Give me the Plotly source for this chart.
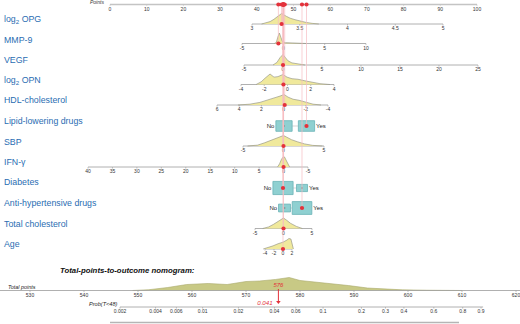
import math
import plotly.graph_objects as go

# ===================== DATA =====================
POINT_TICKS = [0, 10, 20, 30, 40, 50, 60, 70, 80, 90, 100]

# continuous predictors: tick values, model anchors (value -> points), density, observed value
OPG_TICKS = [3, 3.5, 4, 4.5, 5]
OPG_ANCHOR_V = [3, 5]
OPG_ANCHOR_P = [38.69, 90.74]
OPG_DENS_V = [3.10, 3.15, 3.19, 3.23, 3.27, 3.31, 3.36, 3.40, 3.45, 3.50, 3.57, 3.63, 3.70]
OPG_DENS_H = [0, 0.09, 0.23, 0.45, 0.73, 1.0, 0.73, 0.55, 0.41, 0.27, 0.14, 0.06, 0]
OPG_OBS = 3.31

MMP_TICKS = [-5, 0, 5, 10]
MMP_ANCHOR_V = [-5, 10]
MMP_ANCHOR_P = [35.97, 69.75]
MMP_DENS_V = [-1.09, -0.85, -0.67, -0.48, -0.30, -0.12, 0.24, 0.85, 1.69, 2.78]
MMP_DENS_H = [0, 0.1, 0.6, 1.0, 0.6, 0.2, 0.08, 0.05, 0.03, 0]
MMP_OBS = -0.6

VEGF_TICKS = [-5, 0, 5, 10, 15, 20, 25]
VEGF_ANCHOR_V = [-5, 25]
VEGF_ANCHOR_P = [36.51, 100.27]
VEGF_DENS_V = [-1.28, -0.77, -0.38, -0.13, 0, 0.26, 0.64, 1.15, 1.92, 2.82]
VEGF_DENS_H = [0, 0.25, 0.7, 0.95, 1.0, 0.75, 0.4, 0.2, 0.08, 0]
VEGF_OBS = 0

OPN_TICKS = [-4, -2, 0, 2, 4]
OPN_ANCHOR_V = [-4, 4]
OPN_ANCHOR_P = [35.69, 61.04]
OPN_DENS_V = [-2.70, -2.27, -1.93, -1.50, -1.16, -0.82, -0.39, -0.04, 0.39, 0.90, 1.50, 2.10, 2.79, 3.65]
OPN_DENS_H = [0, 0.25, 0.6, 1.0, 0.7, 0.75, 0.95, 0.7, 0.55, 0.5, 0.35, 0.2, 0.08, 0]
OPN_OBS = -0.35

HDL_TICKS = [6, 4, 2, 0, -2, -4]
HDL_ANCHOR_V = [6, -4]
HDL_ANCHOR_P = [29.16, 59.40]
HDL_DENS_V = [4.11, 3.03, 2.13, 1.41, 0.77, 0.32, -0.04, -0.40, -0.85, -1.39, -2.02, -2.65, -3.37]
HDL_DENS_H = [0, 0.08, 0.25, 0.45, 0.7, 0.85, 1.0, 0.75, 0.55, 0.45, 0.25, 0.08, 0]
HDL_OBS = -0.1

SBP_TICKS = [-5, 0, 5]
SBP_ANCHOR_V = [-5, 5]
SBP_ANCHOR_P = [36.24, 58.31]
SBP_DENS_V = [-4.44, -3.21, -2.35, -1.48, -0.74, -0.25, 0, 0.37, 0.99, 1.73, 2.59, 3.58, 4.81]
SBP_DENS_H = [0, 0.08, 0.3, 0.55, 0.8, 0.95, 1.0, 0.85, 0.6, 0.4, 0.2, 0.06, 0]
SBP_OBS = 0

IFN_TICKS = [40, 35, 30, 25, 20, 15, 10, 5, 0, -5]
IFN_ANCHOR_V = [40, -5]
IFN_ANCHOR_P = [-5.99, 53.95]
IFN_DENS_V = [1.23, 0.82, 0.41, 0.20, 0, -0.20, -0.41, -0.82, -1.23]
IFN_DENS_H = [0, 0.3, 0.75, 0.95, 1.0, 0.95, 0.75, 0.3, 0]
IFN_OBS = 0

TC_TICKS = [-5, 0, 5]
TC_ANCHOR_V = [-5, 5]
TC_ANCHOR_P = [39.51, 55.04]
TC_DENS_V = [-3.65, -2.61, -1.74, -0.87, -0.35, 0, 0.52, 1.22, 2.26, 3.30]
TC_DENS_H = [0, 0.15, 0.4, 0.7, 0.9, 1.0, 0.8, 0.5, 0.2, 0]
TC_OBS = 0

AGE_TICKS = [-4, -2, 0, 2]
AGE_ANCHOR_V = [-4, 2]
AGE_ANCHOR_P = [42.23, 49.59]
AGE_DENS_V = [-4.40, -3.30, -2.20, -1.10, 0, 0.88, 1.32, 1.76, 2.09, 2.31]
AGE_DENS_H = [0, 0.12, 0.3, 0.5, 0.65, 0.85, 1.0, 0.95, 0.5, 0]
AGE_OBS = 0

# categorical predictors
CAT_LEVELS = ["No", "Yes"]
LIPID_POINTS = [47.41, 53.54]
LIPID_FREQ = [0.5, 0.5]
LIPID_OBS = "Yes"
DIAB_POINTS = [47.14, 52.32]
DIAB_FREQ = [0.77, 0.23]
DIAB_OBS = "No"
ANTI_POINTS = [47.55, 52.32]
ANTI_FREQ = [0.27, 0.73]
ANTI_OBS = "Yes"

# total points / probability
TOTAL_TICKS = [530, 540, 550, 560, 570, 580, 590, 600, 610, 620]
TOTAL_DENS_V = [549, 552, 555.5, 559, 563, 566.5, 570, 572.5, 575.5, 578, 580, 583, 585, 589,
                592.5, 596, 599, 603.5, 607, 610]
TOTAL_DENS_H = [0, 0.06, 0.23, 0.46, 0.54, 0.46, 0.69, 0.73, 0.85, 1.0, 0.77, 0.65, 0.54, 0.38,
                0.19, 0.09, 0.05, 0.02, 0.015, 0]
PROB_TICKS = [0.002, 0.004, 0.006, 0.01, 0.02, 0.04, 0.06, 0.1, 0.2, 0.3, 0.4, 0.6, 0.8, 0.9]
PROB_TICK_LABELS = ["0.002", "0.004", "0.006", "0.01", "0.02", "0.04", "0.06", "0.1", "0.2",
                    "0.3", "0.4", "0.6", "0.8", "0.9"]
TOTAL_OBS = 576
PROB_OBS = 0.041

# ===================== LAYOUT / STYLE =====================
W, H = 520, 324
PX_PER_POINT = 3.67
POINTS_ORIGIN_PX = 110
TP_PX0, TP_PX_PER = 30, 5.4          # total points 530 at px 30
PR_PX0, PR_PX_PER = 120, 51.23       # prob 0.002 at px 120 (cloglog scale)

LABEL_BLUE = "#2a6db2"
RED = "#e3323b"
PINK = "#f7bcc1"
AXIS_GREY = "#9c9c9c"
TICK_FONT = dict(family="Liberation Sans", size=5, color="#333")
YELLOW = "#f0e99c"
DENS_LINE = "#9a9a8a"
BOX_FILL = "#8fd0d1"
BOX_LINE = "#6ab3b6"
DENS_PX = 10.5
POINTS_AXIS_Y = 4.5


def cloglog(p):
    return math.log(-math.log(1 - p))


def lin(v, av, ap):
    return ap[0] + (v - av[0]) * (ap[1] - ap[0]) / (av[1] - av[0])


rows_cont = [
    dict(label="log<sub>2</sub> OPG", ly=19, ay=24, ticks=OPG_TICKS, av=OPG_ANCHOR_V, ap=OPG_ANCHOR_P,
         dv=OPG_DENS_V, dh=OPG_DENS_H, obs=OPG_OBS),
    dict(label="MMP-9", ly=40, ay=43.5, ticks=MMP_TICKS, av=MMP_ANCHOR_V, ap=MMP_ANCHOR_P,
         dv=MMP_DENS_V, dh=MMP_DENS_H, obs=MMP_OBS),
    dict(label="VEGF", ly=60, ay=65, ticks=VEGF_TICKS, av=VEGF_ANCHOR_V, ap=VEGF_ANCHOR_P,
         dv=VEGF_DENS_V, dh=VEGF_DENS_H, obs=VEGF_OBS),
    dict(label="log<sub>2</sub> OPN", ly=80, ay=84.5, ticks=OPN_TICKS, av=OPN_ANCHOR_V, ap=OPN_ANCHOR_P,
         dv=OPN_DENS_V, dh=OPN_DENS_H, obs=OPN_OBS),
    dict(label="HDL-cholesterol", ly=100, ay=105, ticks=HDL_TICKS, av=HDL_ANCHOR_V, ap=HDL_ANCHOR_P,
         dv=HDL_DENS_V, dh=HDL_DENS_H, obs=HDL_OBS),
    dict(label="SBP", ly=142, ay=146, ticks=SBP_TICKS, av=SBP_ANCHOR_V, ap=SBP_ANCHOR_P,
         dv=SBP_DENS_V, dh=SBP_DENS_H, obs=SBP_OBS),
    dict(label="IFN-γ", ly=162, ay=167, ticks=IFN_TICKS, av=IFN_ANCHOR_V, ap=IFN_ANCHOR_P,
         dv=IFN_DENS_V, dh=IFN_DENS_H, obs=IFN_OBS),
    dict(label="Total cholesterol", ly=224, ay=228.5, ticks=TC_TICKS, av=TC_ANCHOR_V, ap=TC_ANCHOR_P,
         dv=TC_DENS_V, dh=TC_DENS_H, obs=TC_OBS),
    dict(label="Age", ly=244, ay=249, ticks=AGE_TICKS, av=AGE_ANCHOR_V, ap=AGE_ANCHOR_P,
         dv=AGE_DENS_V, dh=AGE_DENS_H, obs=AGE_OBS),
]
rows_cat = [
    dict(label="Lipid-lowering drugs", ly=121, ay=126, pts=LIPID_POINTS, freq=LIPID_FREQ, obs=LIPID_OBS),
    dict(label="Diabetes", ly=182, ay=188, pts=DIAB_POINTS, freq=DIAB_FREQ, obs=DIAB_OBS),
    dict(label="Anti-hypertensive drugs", ly=203, ay=208, pts=ANTI_POINTS, freq=ANTI_FREQ, obs=ANTI_OBS),
]

fig = go.Figure()
annotations = []


def line(xs, ys, color=AXIS_GREY, width=0.8, xaxis="x"):
    fig.add_trace(go.Scatter(x=xs, y=ys, mode="lines", line=dict(color=color, width=width),
                             xaxis=xaxis, yaxis="y", hoverinfo="skip", showlegend=False))


def texts(xs, ys, labels, font=TICK_FONT, xaxis="x", pos="middle center"):
    fig.add_trace(go.Scatter(x=xs, y=ys, mode="text", text=labels, textposition=pos,
                             textfont=font, xaxis=xaxis, yaxis="y", hoverinfo="skip",
                             showlegend=False, cliponaxis=False))


def dots(xs, ys, color=RED, size=4.2, xaxis="x", symbol="circle"):
    fig.add_trace(go.Scatter(x=xs, y=ys, mode="markers",
                             marker=dict(color=color, size=size, symbol=symbol, line=dict(width=0)),
                             xaxis=xaxis, yaxis="y", hoverinfo="skip", showlegend=False,
                             cliponaxis=False))


def axis_with_ticks(tick_pos, labels, y, xaxis="x", color=AXIS_GREY, width=0.8, extent=None):
    lo, hi = (min(tick_pos), max(tick_pos)) if extent is None else extent
    line([lo, hi], [y, y], color=color, width=width, xaxis=xaxis)
    tx, ty = [], []
    for p in tick_pos:
        tx += [p, p, None]
        ty += [y, y + 1.6, None]
    line(tx, ty, color=color, width=0.6, xaxis=xaxis)
    texts(tick_pos, [y + 5] * len(tick_pos), labels, xaxis=xaxis)


# ---- Points axis ----
axis_with_ticks(POINT_TICKS, [str(t) for t in POINT_TICKS], POINTS_AXIS_Y, color="#c4c4c4", width=1.4)
annotations.append(dict(x=106 / W, xref="paper", y=1.8, yref="y", text="<i>Points</i>",
                        showarrow=False, xanchor="right", yanchor="middle",
                        font=dict(family="Liberation Sans", size=5, color="#333")))

# ---- continuous rows ----
obs_points = []
for r in rows_cont:
    tp = [lin(t, r["av"], r["ap"]) for t in r["ticks"]]
    axis_with_ticks(tp, [f"{t:g}" for t in r["ticks"]], r["ay"])
    dx = [lin(v, r["av"], r["ap"]) for v in r["dv"]]
    dy = [r["ay"] - h * DENS_PX for h in r["dh"]]
    fig.add_trace(go.Scatter(x=dx, y=dy, mode="lines", fill="toself", fillcolor=YELLOW,
                             line=dict(color=DENS_LINE, width=0.7), hoverinfo="skip",
                             showlegend=False))
    obs_points.append((lin(r["obs"], r["av"], r["ap"]), r["ay"]))

# ---- categorical rows ----
for r in rows_cat:
    halfw = [23 * math.sqrt(f) / 2 / PX_PER_POINT for f in r["freq"]]
    halfh = [15 * math.sqrt(f) / 2 for f in r["freq"]]
    line([r["pts"][0] + halfw[0], r["pts"][1] - halfw[1]], [r["ay"], r["ay"]], color="#b9b9b9", width=0.6)
    for i, lev in enumerate(CAT_LEVELS):
        c, hw, hh = r["pts"][i], halfw[i], halfh[i]
        fig.add_trace(go.Scatter(x=[c - hw, c + hw, c + hw, c - hw, c - hw],
                                 y=[r["ay"] - hh, r["ay"] - hh, r["ay"] + hh, r["ay"] + hh, r["ay"] - hh],
                                 mode="lines", fill="toself", fillcolor=BOX_FILL,
                                 line=dict(color=BOX_LINE, width=0.8), hoverinfo="skip",
                                 showlegend=False))
        if lev != r["obs"]:
            dots([c], [r["ay"]], color="#8a9a9a", size=2)
    texts([r["pts"][0] - halfw[0] - 0.4], [r["ay"]], ["No"],
          font=dict(family="Liberation Sans", size=6, color="#222"), pos="middle left")
    texts([r["pts"][1] + halfw[1] + 0.4], [r["ay"]], ["Yes"],
          font=dict(family="Liberation Sans", size=6, color="#222"), pos="middle right")
    k = CAT_LEVELS.index(r["obs"])
    obs_points.append((r["pts"][k], r["ay"]))

# ---- pink guide lines + red points ----
for p, y in obs_points:
    line([p, p], [POINTS_AXIS_Y, y], color=PINK, width=0.7)
dots([p for p, _ in obs_points], [y for _, y in obs_points])
dots([p for p, _ in obs_points], [POINTS_AXIS_Y] * len(obs_points))

# ---- row labels ----
for r in rows_cont + rows_cat:
    annotations.append(dict(x=2 / W, xref="paper", y=r["ly"], yref="y", text=r["label"],
                            showarrow=False, xanchor="left", yanchor="middle",
                            font=dict(family="Liberation Sans", size=8.8, color=LABEL_BLUE)))

# ---- total points nomogram ----
TP_Y = 290.5
PR_Y = 307
fig.add_trace(go.Scatter(x=TOTAL_DENS_V, y=[TP_Y - h * 13 for h in TOTAL_DENS_H], mode="lines",
                         fill="toself", fillcolor="#c8c985", line=dict(color="#a9aa6c", width=0.6),
                         xaxis="x2", yaxis="y", hoverinfo="skip", showlegend=False))
tp_lo = TOTAL_TICKS[0] - TP_PX0 / TP_PX_PER
tp_hi = TOTAL_TICKS[0] + (W - TP_PX0) / TP_PX_PER
axis_with_ticks(TOTAL_TICKS, [str(t) for t in TOTAL_TICKS], TP_Y, xaxis="x2", extent=(tp_lo, tp_hi))

pr_pos = [cloglog(p) for p in PROB_TICKS]
axis_with_ticks(pr_pos, PROB_TICK_LABELS, PR_Y, xaxis="x3",
                extent=(pr_pos[0], pr_pos[-1] + 0.04))

# observed total -> probability
line([TOTAL_OBS, TOTAL_OBS], [TP_Y - 1.5, PR_Y - 5], color=RED, width=1, xaxis="x2")
dots([TOTAL_OBS], [PR_Y - 5], size=4, xaxis="x2", symbol="triangle-down")
texts([TOTAL_OBS], [TP_Y - 5], [f"<i>{TOTAL_OBS}</i>"],
      font=dict(family="Liberation Sans", size=6, color=RED), xaxis="x2")
texts([cloglog(PROB_OBS) - 0.06], [PR_Y - 4], [f"<i>{PROB_OBS:g}</i>"],
      font=dict(family="Liberation Sans", size=6.2, color=RED), xaxis="x3", pos="middle left")

annotations.append(dict(x=6 / W, xref="paper", y=287, yref="y", text="<i>Total points</i>",
                        showarrow=False, xanchor="left", yanchor="middle",
                        font=dict(family="Liberation Sans", size=5.4, color="#222")))
annotations.append(dict(x=120 / W, xref="paper", y=303.5, yref="y", text="<i>Prob(T&lt;48)</i>",
                        showarrow=False, xanchor="right", yanchor="middle",
                        font=dict(family="Liberation Sans", size=5.6, color="#222")))
annotations.append(dict(x=127 / W, xref="paper", y=270.5, yref="y",
                        text="<b><i>Total-points-to-outcome nomogram:</i></b>",
                        showarrow=False, xanchor="center", yanchor="middle",
                        font=dict(family="Liberation Sans", size=7.8, color="#111")))

# bottom grey rule
fig.add_shape(type="line", xref="paper", yref="y", x0=110 / W, x1=459 / W, y0=322.5, y1=322.5,
              line=dict(color="#b5b5b5", width=1.5))

pr_lo = cloglog(PROB_TICKS[0]) - PR_PX0 / PR_PX_PER
pr_hi = cloglog(PROB_TICKS[0]) + (W - PR_PX0) / PR_PX_PER

fig.update_layout(
    width=W, height=H, margin=dict(l=0, r=0, t=0, b=0),
    paper_bgcolor="white", plot_bgcolor="white", showlegend=False,
    xaxis=dict(range=[-POINTS_ORIGIN_PX / PX_PER_POINT, (W - POINTS_ORIGIN_PX) / PX_PER_POINT],
               visible=False, fixedrange=True),
    xaxis2=dict(range=[tp_lo, tp_hi], overlaying="x", anchor="y", visible=False, fixedrange=True),
    xaxis3=dict(range=[pr_lo, pr_hi], overlaying="x", anchor="y", visible=False, fixedrange=True),
    yaxis=dict(range=[H, 0], visible=False, fixedrange=True),
    annotations=annotations,
)

fig.write_html("out.html", config={"displayModeBar": False},
               post_script="document.body.style.margin='0';document.body.style.overflow='hidden';")
